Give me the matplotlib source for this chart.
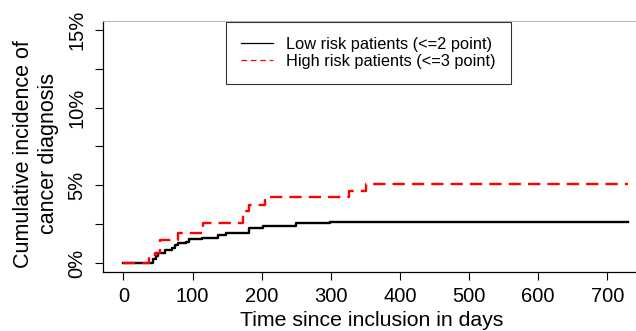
import matplotlib
matplotlib.use("Agg")
import matplotlib.pyplot as plt
from matplotlib.lines import Line2D

plt.rcParams['font.family'] = ['Liberation Sans', 'DejaVu Sans']

# Data (cumulative incidence, percent)
low_days = [0, 43, 47, 50, 60, 70, 74, 79, 91, 95, 113, 137, 148, 181, 202, 250, 299, 730]
low_vals = [0, 0.26, 0.45, 0.62, 0.84, 0.99, 1.16, 1.31, 1.37, 1.53, 1.63, 1.78, 1.95, 2.23, 2.38, 2.55, 2.67, 2.67]
high_days = [0, 37, 46, 53, 79, 115, 173, 181, 205, 327, 351, 730]
high_vals = [0, 0.4, 0.64, 1.48, 1.92, 2.6, 3.37, 3.73, 4.27, 4.65, 5.07, 5.07]

x_ticks = [0, 100, 200, 300, 400, 500, 600, 700]
y_ticks = [0, 2.5, 5, 7.5, 10, 12.5, 15]
y_ticklabels = ['0%', '', '5%', '', '10%', '', '15%']
legend_labels = ['Low risk patients (<=2 point)', 'High risk patients (<=3 point)']

W, H = 636, 331
fig = plt.figure(figsize=(W / 100, H / 100), dpi=100)
left_px, right_px = 103.3, 648.2
bot_px, top_px = 272.3, 20.7
ax = fig.add_axes([left_px / W, 1 - bot_px / H, (right_px - left_px) / W, (bot_px - top_px) / H])

ax.step(low_days, low_vals, where='post', color='black', lw=1.7)
ax.step(high_days, high_vals, where='post', color='#ff0000', lw=1.7,
        linestyle=(0, (5.2, 3.0)))

ax.set_xlim(-29.2, 759.2)
ax.set_ylim(-0.6, 15.6)
ax.set_xticks(x_ticks)
ax.set_xticklabels([str(t) for t in x_ticks])
ax.set_yticks(y_ticks)
ax.set_yticklabels(y_ticklabels, rotation=90, va='center')

for s in ['left', 'bottom']:
    ax.spines[s].set_linewidth(0.9)
ax.spines['right'].set_visible(False)
ax.spines['top'].set_color('#bbbbbb')
ax.spines['top'].set_linewidth(0.8)

ax.tick_params(axis='both', direction='out', length=6, width=0.8, labelsize=14.5, colors='black')
ax.tick_params(axis='x', pad=4.5)
ax.tick_params(axis='y', pad=6)

fig.text(372 / W, 1 - 321 / H, 'Time since inclusion in days', fontsize=15.3, ha='center', va='center')
fig.text(36 / W, 1 - 154 / H, 'Cumulative incidence of\ncancer diagnosis', fontsize=15.5,
         rotation=90, ha='center', va='center', linespacing=1.28)

handles = [Line2D([], [], color='black', lw=0.9),
           Line2D([], [], color='#ff0000', lw=0.9, linestyle=(0, (4.5, 3.0)))]
leg = fig.legend(handles, legend_labels, loc='upper left',
                 bbox_to_anchor=(226 / W, 1 - 21.5 / H), bbox_transform=fig.transFigure,
                 fontsize=11.8, frameon=True, fancybox=False, edgecolor='black',
                 handlelength=1.95, handletextpad=0.8, borderpad=0.92, labelspacing=0.12,
                 borderaxespad=0)
leg.get_frame().set_linewidth(0.8)

fig.savefig('out.png', dpi=100)
